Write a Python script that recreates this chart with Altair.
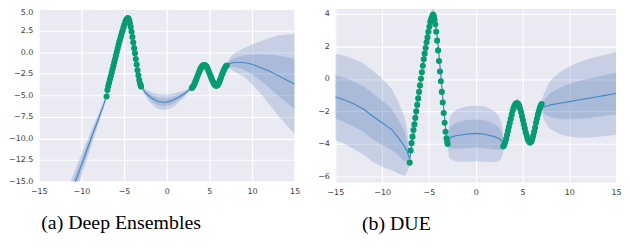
import altair as alt
import pandas as pd

# ---------------- data ----------------
x_ticks = [-15, -10, -5, 0, 5, 10, 15]
de_y_ticks = [5.0, 2.5, 0.0, -2.5, -5.0, -7.5, -10.0, -12.5, -15.0]
due_y_ticks = [4, 2, 0, -2, -4, -6]

# training points (same in both panels)
pts_x = [-7.05, -6.95, -6.85, -6.75, -6.65, -6.55, -6.45, -6.35, -6.25, -6.15,
         -6.05, -5.95, -5.85, -5.75, -5.65, -5.55, -5.45, -5.35, -5.25, -5.15,
         -5.05, -4.95, -4.85, -4.75, -4.65, -4.55, -4.47, -4.4, -4.32, -4.22,
         -4.12, -4.02, -3.92, -3.82, -3.72, -3.62, -3.52, -3.42, -3.32, -3.22,
         -3.12, -3.05, -3.0,
         2.95, 3.05, 3.15, 3.25, 3.35, 3.45, 3.55, 3.65, 3.75, 3.85,
         3.95, 4.05, 4.15, 4.25, 4.35, 4.45, 4.55, 4.65, 4.75, 4.85,
         4.95, 5.05, 5.15, 5.25, 5.35, 5.45, 5.55, 5.65, 5.75, 5.85,
         5.95, 6.05, 6.15, 6.25, 6.35, 6.45, 6.55, 6.65, 6.75, 6.85,
         6.95, 7.05]
pts_y = [-5.15, -4.4, -3.95, -3.55, -3.15, -2.8, -2.4, -2.0, -1.6, -1.2,
         -0.8, -0.4, 0.0, 0.4, 0.8, 1.2, 1.55, 1.9, 2.25, 2.55,
         2.9, 3.2, 3.5, 3.7, 3.85, 3.95, 3.85, 3.65, 3.35, 2.9,
         2.35, 1.75, 1.1, 0.45, -0.15, -0.8, -1.45, -2.1, -2.7, -3.25,
         -3.65, -3.85, -4.0,
         -4.15, -4.05, -3.9, -3.7, -3.45, -3.2, -2.95, -2.7, -2.45, -2.2,
         -1.95, -1.8, -1.65, -1.55, -1.5, -1.5, -1.55, -1.65, -1.85, -2.05,
         -2.3, -2.55, -2.8, -3.05, -3.3, -3.5, -3.7, -3.8, -3.9, -3.9,
         -3.85, -3.7, -3.5, -3.25, -3.0, -2.7, -2.45, -2.2, -2.0, -1.8,
         -1.65, -1.55]

# Deep Ensembles: predictive mean and std
de_x = [-11.6, -11.0, -10.5, -10.0, -9.5, -9.0, -8.5, -8.0, -7.5, -7.05,
        -6.8, -6.5, -6.2, -5.9, -5.6, -5.3, -5.0, -4.8, -4.6, -4.45,
        -4.3, -4.15, -4.0, -3.85, -3.7, -3.55, -3.4, -3.25, -3.1, -3.0,
        -2.5, -2.0, -1.5, -1.0, -0.5, 0.0, 0.5, 1.0, 1.5, 2.0, 2.5, 3.0,
        3.3, 3.6, 3.9, 4.2, 4.5, 4.8, 5.1, 5.4, 5.7, 5.95, 6.2, 6.5, 6.8, 7.05,
        7.5, 8.0, 9.0, 10.0, 11.0, 12.0, 13.0, 14.0, 15.0]
de_mean = [-17.4, -15.8, -14.45, -13.1, -11.75, -10.4, -9.05, -7.75, -6.4, -5.1,
           -3.9, -2.6, -1.4, -0.2, 1.0, 2.1, 3.05, 3.6, 3.92, 3.85,
           3.45, 2.8, 1.95, 1.0, 0.05, -0.95, -1.9, -2.85, -3.6, -4.0,
           -4.7, -5.15, -5.5, -5.72, -5.82, -5.8, -5.68, -5.45, -5.18, -4.88, -4.5, -4.07,
           -3.55, -2.8, -2.05, -1.62, -1.5, -1.92, -2.65, -3.38, -3.85, -3.88, -3.38, -2.6, -1.9, -1.55,
           -1.3, -1.2, -1.2, -1.42, -1.78, -2.2, -2.7, -3.2, -3.7]
de_sd = [0.8, 0.72, 0.68, 0.62, 0.54, 0.46, 0.37, 0.28, 0.18, 0.08,
         0.06, 0.06, 0.06, 0.06, 0.06, 0.06, 0.06, 0.06, 0.06, 0.06,
         0.06, 0.06, 0.06, 0.06, 0.06, 0.06, 0.06, 0.06, 0.06, 0.05,
         0.2, 0.3, 0.37, 0.42, 0.44, 0.43, 0.4, 0.35, 0.28, 0.2, 0.12, 0.05,
         0.06, 0.06, 0.06, 0.06, 0.06, 0.06, 0.06, 0.06, 0.06, 0.06, 0.06, 0.06, 0.07, 0.1,
         0.35, 0.55, 0.8, 1.15, 1.5, 1.9, 2.3, 2.6, 2.9]

# DUE: predictive mean and std
due_x = [-15.0, -14.0, -13.0, -12.0, -11.0, -10.0, -9.0, -8.3, -7.6, -7.3, -7.05,
         -6.8, -6.5, -6.2, -5.9, -5.6, -5.3, -5.0, -4.8, -4.6, -4.45,
         -4.3, -4.15, -4.0, -3.85, -3.7, -3.55, -3.4, -3.25, -3.1, -3.0,
         -2.8, -2.5, -2.0, -1.0, 0.0, 1.0, 2.0, 2.5, 2.8, 3.0,
         3.3, 3.6, 3.9, 4.2, 4.5, 4.8, 5.1, 5.4, 5.7, 5.95, 6.2, 6.5, 6.8, 7.05,
         7.3, 7.7, 8.0, 9.0, 10.0, 11.0, 12.0, 13.0, 14.0, 15.0]
due_mean = [-1.1, -1.3, -1.55, -1.85, -2.3, -2.7, -3.1, -3.6, -4.15, -4.5, -4.95,
            -3.9, -2.6, -1.4, -0.2, 1.0, 2.1, 3.05, 3.6, 3.92, 3.85,
            3.45, 2.8, 1.95, 1.0, 0.05, -0.95, -1.9, -2.85, -3.6, -3.95,
            -3.65, -3.55, -3.48, -3.4, -3.35, -3.4, -3.55, -3.68, -3.8, -4.05,
            -3.55, -2.8, -2.05, -1.62, -1.5, -1.92, -2.65, -3.38, -3.85, -3.88, -3.38, -2.6, -1.9, -1.65,
            -1.72, -1.65, -1.6, -1.5, -1.4, -1.3, -1.2, -1.1, -1.0, -0.9]
due_sd = [1.32, 1.35, 1.38, 1.4, 1.4, 1.35, 1.25, 1.1, 0.9, 0.6, 0.15,
          0.12, 0.12, 0.12, 0.12, 0.12, 0.14, 0.16, 0.2, 0.22, 0.2,
          0.16, 0.12, 0.12, 0.12, 0.12, 0.12, 0.12, 0.12, 0.12, 0.12,
          0.6, 0.72, 0.8, 0.85, 0.85, 0.85, 0.78, 0.68, 0.5, 0.12,
          0.12, 0.12, 0.12, 0.14, 0.16, 0.14, 0.12, 0.12, 0.14, 0.14, 0.12, 0.12, 0.12, 0.15,
          0.4, 0.62, 0.75, 0.95, 1.07, 1.15, 1.2, 1.23, 1.25, 1.27]

captions = ["(a) Deep Ensembles", "(b) DUE"]

# ---------------- styling ----------------
BAND = "#4C72B0"
LINE = "#4189c9"
PT = "#079b74"


def frame(xs, means, sds):
    df = pd.DataFrame({"x": xs, "mean": means, "sd": sds})
    df["lo1"] = df["mean"] - df["sd"]
    df["hi1"] = df["mean"] + df["sd"]
    df["lo2"] = df["mean"] - 2 * df["sd"]
    df["hi2"] = df["mean"] + 2 * df["sd"]
    return df


pts = pd.DataFrame({"x": pts_x, "y": pts_y})


def panel(df, ydom, yticks, yfmt, width, height, caption, dx, offset, top_val):
    xs = alt.Scale(domain=[-15, 15], nice=False, zero=False)
    ys = alt.Scale(domain=ydom, nice=False, zero=False)
    baseline = {"condition": {"test": f"datum.value == {top_val}", "value": "top"},
                "value": "middle"}

    def X(f):
        return alt.X(f, type="quantitative", scale=xs,
                     axis=alt.Axis(values=x_ticks, format="d", title=None,
                                   labelOverlap=False, labelFlush=False))

    def Y(f):
        return alt.Y(f, type="quantitative", scale=ys,
                     axis=alt.Axis(values=yticks, format=yfmt, title=None,
                                   labelOverlap=False, labelFlush=False,
                                   labelBaseline=baseline))

    base = alt.Chart(df)
    outer = base.mark_area(color=BAND, opacity=0.22, stroke=BAND, strokeOpacity=0.25,
                           strokeWidth=0.8, clip=True).encode(
        x=X("x"), y=Y("lo2"), y2="hi2:Q")
    inner = base.mark_area(color=BAND, opacity=0.22, stroke=BAND, strokeOpacity=0.25,
                           strokeWidth=0.8, clip=True).encode(
        x=X("x"), y=Y("lo1"), y2="hi1:Q")
    line = base.mark_line(color=LINE, strokeWidth=1.1, clip=True).encode(
        x=X("x"), y=Y("mean"))
    dots = alt.Chart(pts).mark_circle(color=PT, size=38, opacity=1, clip=True).encode(
        x=X("x"), y=Y("y"))
    return alt.layer(outer, inner, line, dots).properties(
        width=width, height=height,
        title=alt.TitleParams(caption, orient="bottom", anchor="middle", frame="group",
                              dx=dx, offset=offset, font="Liberation Serif", fontSize=20,
                              fontWeight="normal", color="#000000"))


left = panel(frame(de_x, de_mean, de_sd), [-15, 5], de_y_ticks, ".1f",
             258, 174, captions[0], -46, 18, 5)
right = panel(frame(due_x, due_mean, due_sd), [-6.37, 4.3], due_y_ticks, "d",
              283, 175, captions[1], -80, 18, 99)

chart = alt.hconcat(left, right, spacing=17).properties(
    padding={"left": 0, "top": 0, "right": 0, "bottom": 0}
).configure_view(fill="#EAEAF2", strokeWidth=0).configure_axis(
    grid=True, gridColor="#ffffff", gridWidth=1.1, gridOpacity=1,
    domain=False, ticks=False, labelFont="DejaVu Sans", labelFontSize=8,
    labelColor="#3c3c3c", labelPadding=6
).configure_title(font="Liberation Serif")

chart.save("out.html", embed_options={"renderer": "svg", "actions": False})
